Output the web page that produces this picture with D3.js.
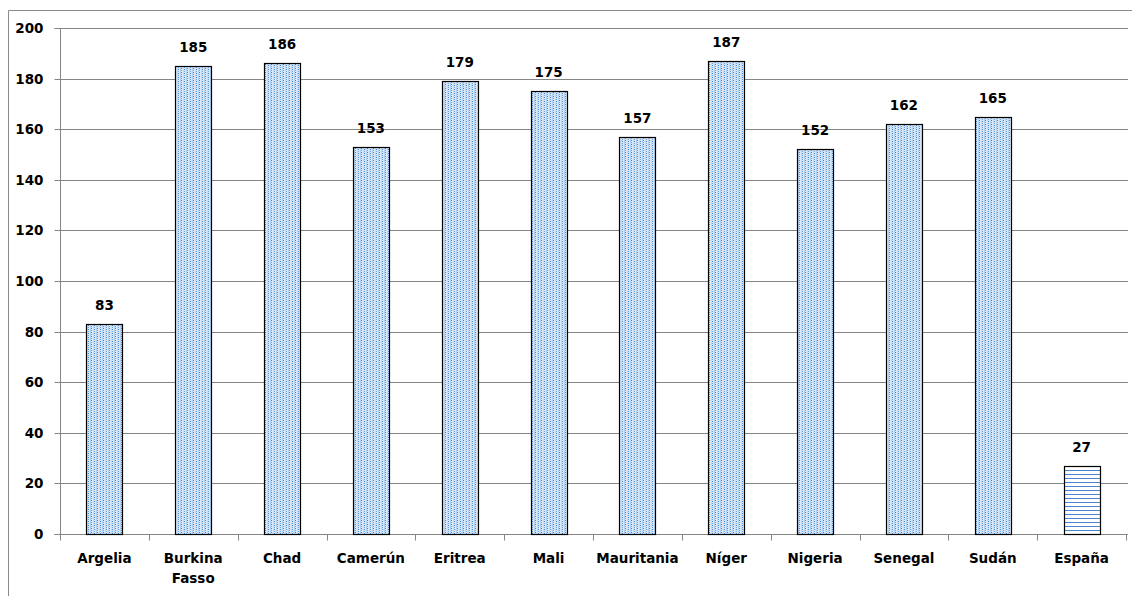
<!DOCTYPE html>
<html><head><meta charset="utf-8">
<script src="https://cdn.jsdelivr.net/npm/d3@7"></script>
<style>body{margin:0;background:#fff}svg{display:block}</style>
</head><body>
<script>
const categories = [["Argelia"],["Burkina","Fasso"],["Chad"],["Camerún"],["Eritrea"],["Mali"],["Mauritania"],["Níger"],["Nigeria"],["Senegal"],["Sudán"],["España"]];
const values = [83,185,186,153,179,175,157,187,152,162,165,27];
const yTicks = [0,20,40,60,80,100,120,140,160,180,200];

const W=1132,H=596;
const svg=d3.select("body").append("svg").attr("width",W).attr("height",H);
const defs=svg.append("defs");
const dots=defs.append("pattern").attr("id","dots").attr("patternUnits","userSpaceOnUse").attr("width",6).attr("height",4);
dots.append("rect").attr("width",6).attr("height",4).attr("fill","#dae8f6");
dots.append("rect").attr("x",0).attr("width",1).attr("height",4).attr("fill","#b5d0ee");
dots.append("rect").attr("x",3).attr("width",1).attr("height",4).attr("fill","#c6dbf2");
dots.append("rect").attr("x",1).attr("y",0).attr("width",1).attr("height",1).attr("fill","#3f86d3");
dots.append("rect").attr("x",1).attr("y",2).attr("width",1).attr("height",1).attr("fill","#6fa6e0");
dots.append("rect").attr("x",4).attr("y",1).attr("width",1).attr("height",1).attr("fill","#3f86d3");
dots.append("rect").attr("x",4).attr("y",3).attr("width",1).attr("height",1).attr("fill","#6fa6e0");
const hl=defs.append("pattern").attr("id","hlines").attr("patternUnits","userSpaceOnUse").attr("width",4).attr("height",4);
hl.append("rect").attr("width",4).attr("height",4).attr("fill","#fff");
hl.append("rect").attr("y",2).attr("width",4).attr("height",1).attr("fill","#4a86cf");

// outer border
svg.append("path").attr("d","M8.5,"+H+"V10.5H"+W).attr("fill","none").attr("stroke","#8a8a8a").attr("stroke-width",1);

const x0=60,x1=1126,yTop=28,yBot=534;
const x=d3.scaleBand().domain(d3.range(categories.length)).range([x0,x1]).padding(0);
const y=d3.scaleLinear().domain([0,200]).range([yBot,yTop]);
const font="'DejaVu Sans', sans-serif";
const fs="13.5px";

// gridlines
svg.append("g").selectAll("line").data(yTicks.filter(d=>d>0)).join("line")
 .attr("x1",x0).attr("x2",x1+2).attr("y1",d=>Math.round(y(d))+0.5).attr("y2",d=>Math.round(y(d))+0.5)
 .attr("stroke","#858585").attr("stroke-width",1);

// y axis
const ya=svg.append("g").attr("transform",`translate(${x0+0.5},0.5)`).call(d3.axisLeft(y).tickValues(yTicks).tickSize(6).tickPadding(10));
ya.select(".domain").attr("stroke","#858585").attr("d",`M-6,${yBot}H0V${yTop}H-6`);
ya.selectAll(".tick line").attr("stroke","#858585");
ya.selectAll(".tick text").attr("font-family",font).attr("font-weight","bold").attr("font-size",fs).attr("fill","#000").attr("dx","-1");
ya.selectAll(".tick").attr("transform",d=>`translate(0,${Math.round(y(d))})`);

// x axis
const xa=svg.append("g").attr("transform",`translate(0,${yBot+0.5})`);
xa.append("line").attr("x1",x0).attr("x2",x1+2).attr("stroke","#858585");
xa.selectAll(".t").data(d3.range(categories.length+1)).join("line").attr("class","t")
 .attr("x1",i=>Math.round(x0+i*x.step())+0.5).attr("x2",i=>Math.round(x0+i*x.step())+0.5).attr("y1",0).attr("y2",6).attr("stroke","#858585");

const bw=x.bandwidth()*0.405;
svg.append("g").selectAll("rect").data(values).join("rect")
 .attr("x",(d,i)=>Math.round(x(i)+(x.bandwidth()-bw)/2)+0.5)
 .attr("y",d=>Math.round(y(d))+0.5)
 .attr("width",Math.round(bw))
 .attr("height",d=>Math.round(yBot-y(d)))
 .attr("fill",(d,i)=>i===values.length-1?"url(#hlines)":"url(#dots)")
 .attr("stroke","#000").attr("stroke-width",1.2);

svg.append("g").selectAll("text").data(values).join("text")
 .attr("x",(d,i)=>x(i)+x.bandwidth()/2).attr("y",d=>y(d)-14)
 .attr("text-anchor","middle").attr("font-family",font).attr("font-weight","bold").attr("font-size",fs).text(d=>d);

const lab=svg.append("g").selectAll("text").data(categories).join("text")
 .attr("x",(d,i)=>x(i)+x.bandwidth()/2).attr("y",563)
 .attr("text-anchor","middle").attr("font-family",font).attr("font-weight","bold").attr("font-size",fs);
lab.selectAll("tspan").data(d=>d).join("tspan").attr("x",function(){return this.parentNode.getAttribute("x");}).attr("dy",(d,j)=>j?20:0).text(d=>d);
</script>
</body></html>
